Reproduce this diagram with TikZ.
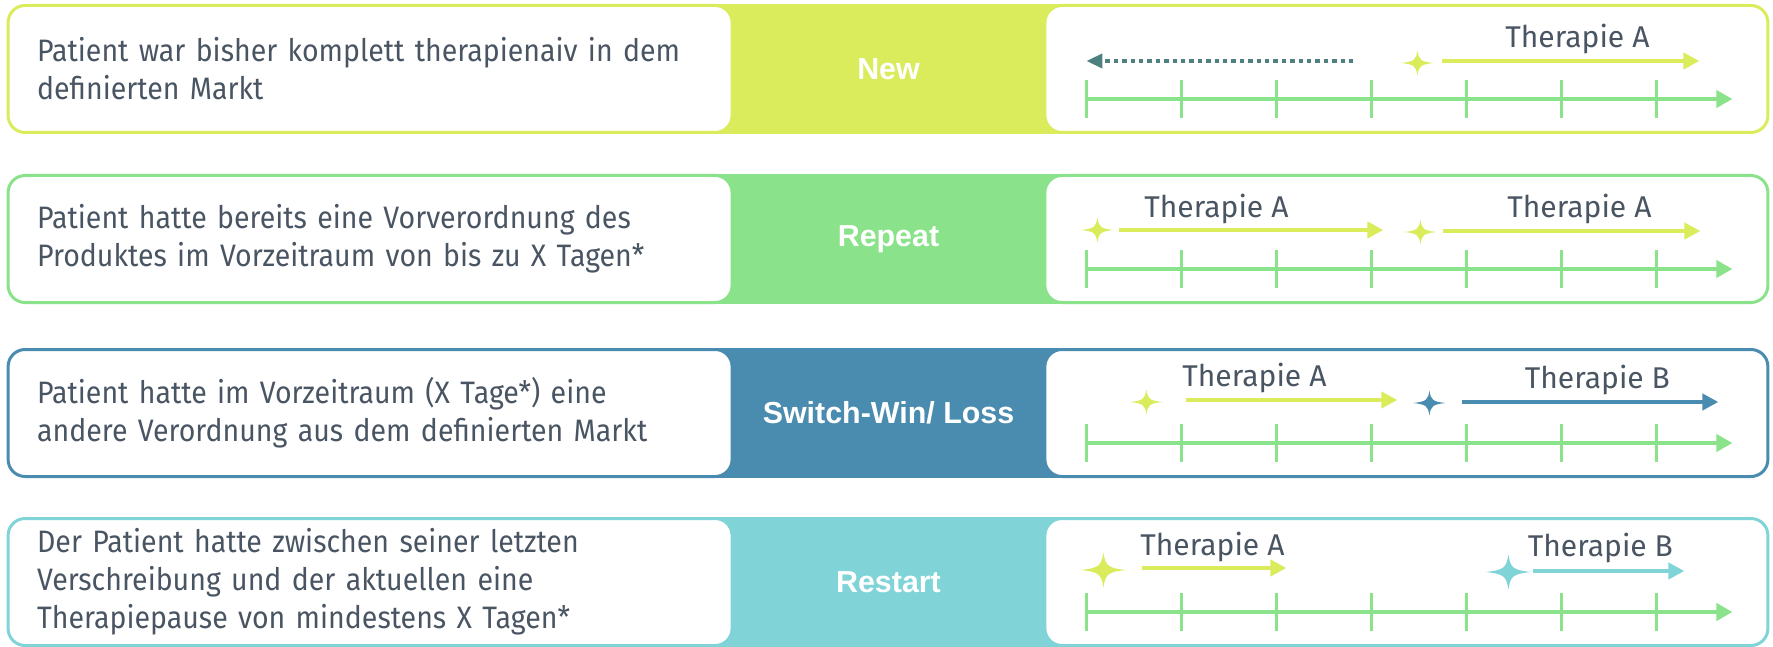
\documentclass[tikz,border=0pt]{standalone}
\usepackage{fontspec}
\setmainfont{Fira Sans}
\newfontfamily\descfont{Fira Sans}[FakeStretch=0.92]
\newfontfamily\bandfont{Liberation Sans}
\usetikzlibrary{arrows.meta, positioning}

\definecolor{limeA}{HTML}{DAEC5C}
\definecolor{greenB}{HTML}{8AE28A}
\definecolor{blueC}{HTML}{4A8BB0}
\definecolor{cyanD}{HTML}{80D4D8}
\definecolor{tealdot}{HTML}{4F8080}
\definecolor{slate}{HTML}{4A5563}

\tikzset{
    rowband/.style = {fill=#1, minimum width=180.5pt, minimum height=65pt, inner sep=0pt,
                      text=white, font=\bandfont\bfseries\fontsize{15.2}{18}\selectfont},
    descbox/.style = {draw=#1, line width=1.5pt, fill=white, rounded corners=8.5pt,
                      minimum height=63.5pt, text width=333pt, inner xsep=14.5pt, align=left,
                      text=slate, font=\descfont\fontsize{15.5}{19}\selectfont},
    timebox/.style = {draw=#1, line width=1.5pt, fill=white, rounded corners=8.5pt,
                      minimum width=361.5pt, minimum height=63.5pt},
    timeaxis/.style = {draw=greenB, line width=2.1pt},
    therapy/.style = {draw=#1, line width=2.2pt, -{Triangle[length=8pt, width=8pt]}},
    thlabel/.style = {anchor=base, inner sep=0pt, text=slate, font=\fontsize{15}{17}\selectfont},
    sparkle/.pic = {
        \fill (16,0) .. controls (3,1.5) and (1.5,3) .. (0,12.5)
              .. controls (-1.5,3) and (-3,1.5) .. (-16,0)
              .. controls (-3,-1.5) and (-1.5,-3) .. (0,-12.5)
              .. controls (1.5,-3) and (3,-1.5) .. cycle;
    }
}

\begin{document}
\begin{tikzpicture}[x=0.5pt, y=-0.5pt]
    \useasboundingbox (0,0) rectangle (1773,647);

    % bands first, the boxes lie on top of them
    \node[rowband=limeA] (newband) at (888.5,69) {New};
    \node[descbox=limeA, left=-13pt of newband] (newtxt) {Patient war bisher komplett therapienaiv in dem\\definierten Markt};
    \node[timebox=limeA, right=-13pt of newband] (newtl) {};

    \node[rowband=greenB] (repband) at (888.5,239) {Repeat};
    \node[descbox=greenB, left=-13pt of repband] (reptxt) {Patient hatte bereits eine Vorverordnung des\\Produktes im Vorzeitraum von bis zu X Tagen*};
    \node[timebox=greenB, right=-13pt of repband] (reptl) {};

    \node[rowband=blueC] (swiband) at (888.5,413) {Switch-Win/ Loss};
    \node[descbox=blueC, left=-13pt of swiband] (switxt) {Patient hatte im Vorzeitraum (X Tage*) eine\\andere Verordnung aus dem definierten Markt};
    \node[timebox=blueC, right=-13pt of swiband] (switl) {};

    \node[rowband=cyanD] (resband) at (888.5,582) {Restart};
    \node[descbox=cyanD, left=-13pt of resband] (restxt) {Der Patient hatte zwischen seiner letzten\\Verschreibung und der aktuellen eine\\Therapiepause von mindestens X Tagen*};
    \node[timebox=cyanD, right=-13pt of resband] (restl) {};

    % time axes
    \foreach \r in {new, rep, swi, res} {
        \begin{scope}[shift={(\r tl.north west)}]
            \coordinate (\r ax0) at (43,95);
            \coordinate (\r ax1) at (689,95);
            \draw[timeaxis, -{Triangle[length=8pt, width=8.5pt]}] (\r ax0) -- (\r ax1);
            \foreach \i in {0,...,6}
                \draw[timeaxis, line width=1.8pt] (43+95*\i,76) -- (43+95*\i,114);
        \end{scope}
    }

    % New
    \begin{scope}[shift={(newtl.north west)}]
        \coordinate (newpast0) at (310,57);
        \coordinate (newpast1) at (43,57);
        \draw[tealdot, line width=2.2pt, dash pattern=on 2.2pt off 2pt,
              -{Triangle[length=8pt, width=7pt]}] (newpast0) -- (newpast1);
        \pic[color=limeA] (newS) at (374,59) {sparkle};
        \coordinate (newA0) at (399,57);
        \coordinate (newA1) at (656,57);
        \draw[therapy=limeA] (newA0) -- (newA1);
        \node[thlabel] (newlA) at (534,44) {Therapie A};
    \end{scope}

    % Repeat
    \begin{scope}[shift={(reptl.north west)}]
        \pic[color=limeA] (repS1) at (54,56) {sparkle};
        \coordinate (repA0) at (76,56);
        \coordinate (repA1) at (340,56);
        \draw[therapy=limeA] (repA0) -- (repA1);
        \node[thlabel] (replA1) at (173,44) {Therapie A};
        \pic[color=limeA] (repS2) at (377,58) {sparkle};
        \coordinate (repB0) at (400,57);
        \coordinate (repB1) at (657,57);
        \draw[therapy=limeA] (repB0) -- (repB1);
        \node[thlabel] (replA2) at (536,44) {Therapie A};
    \end{scope}

    % Switch
    \begin{scope}[shift={(switl.north west)}]
        \pic[color=limeA] (swiSA) at (103,54) {sparkle};
        \coordinate (swiA0) at (143,52);
        \coordinate (swiA1) at (354,52);
        \draw[therapy=limeA] (swiA0) -- (swiA1);
        \node[thlabel] (swilA) at (211,38) {Therapie A};
        \pic[color=blueC] (swiSB) at (386,55) {sparkle};
        \coordinate (swiB0) at (419,54);
        \coordinate (swiB1) at (675,54);
        \draw[therapy=blueC] (swiB0) -- (swiB1);
        \node[thlabel] (swilB) at (554,40) {Therapie B};
    \end{scope}

    % Restart
    \begin{scope}[shift={(restl.north west)}]
        \pic[color=limeA, scale=1.4] (resSA) at (60,53) {sparkle};
        \coordinate (resA0) at (99,51);
        \coordinate (resA1) at (243,51);
        \draw[therapy=limeA] (resA0) -- (resA1);
        \node[thlabel] (reslA) at (169,38) {Therapie A};
        \pic[color=cyanD, scale=1.4] (resSB) at (465,55) {sparkle};
        \coordinate (resB0) at (490,54);
        \coordinate (resB1) at (641,54);
        \draw[therapy=cyanD] (resB0) -- (resB1);
        \node[thlabel] (reslB) at (557,39) {Therapie B};
    \end{scope}
\end{tikzpicture}
\end{document}
